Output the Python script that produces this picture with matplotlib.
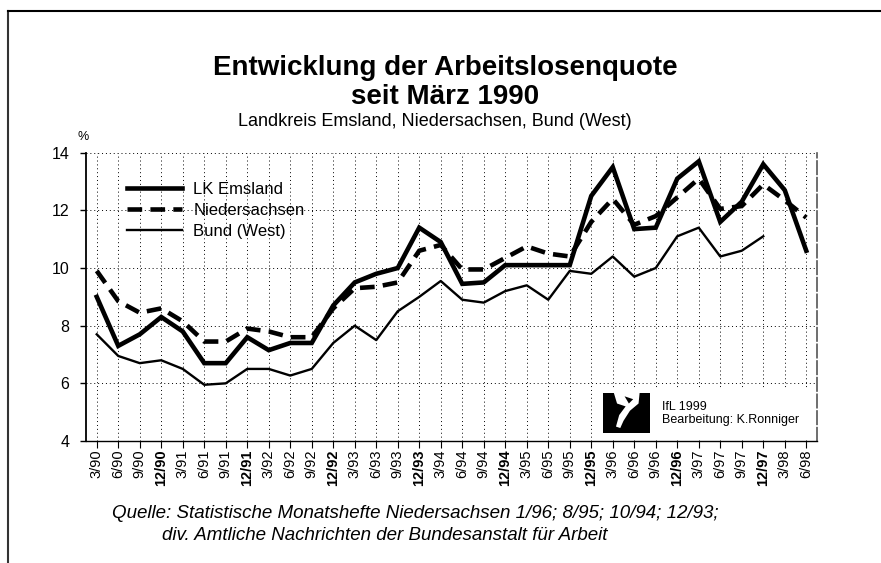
import matplotlib
matplotlib.use("Agg")
import matplotlib.pyplot as plt
from matplotlib.patches import Rectangle, Polygon
from matplotlib.lines import Line2D

plt.rcParams['font.family'] = ['Liberation Sans', 'DejaVu Sans']

# quarterly ticks 3/90 ... 6/98
quarters = []
for yy in range(90, 99):
    for mm in (3, 6, 9, 12):
        if yy == 98 and mm > 6:
            break
        quarters.append("%d/%02d" % (mm, yy))

emsland = [9.0, 7.3, 7.7, 8.3, 7.8, 6.7, 6.7, 7.6, 7.15, 7.4, 7.4, 8.7,
           9.5, 9.8, 10.0, 11.4, 10.9, 9.45, 9.5, 10.1, 10.1, 10.1, 10.1, 12.5,
           13.5, 11.35, 11.4, 13.1, 13.7, 11.6, 12.3, 13.6, 12.7, 10.6]
niedersachsen = [9.9, 8.85, 8.45, 8.6, 8.15, 7.45, 7.45, 7.9, 7.8, 7.6, 7.6, 8.6,
                 9.3, 9.35, 9.5, 10.6, 10.8, 9.95, 9.95, 10.35, 10.75, 10.5, 10.4, 11.6,
                 12.4, 11.5, 11.8, 12.45, 13.1, 12.05, 12.15, 12.9, 12.35, 11.75]
bund = [7.7, 6.95, 6.7, 6.8, 6.5, 5.95, 6.0, 6.5, 6.5, 6.27, 6.5, 7.4,
        8.0, 7.5, 8.5, 9.0, 9.55, 8.9, 8.8, 9.2, 9.4, 8.9, 9.9, 9.8,
        10.4, 9.7, 10.0, 11.1, 11.4, 10.4, 10.6, 11.1]

fig = plt.figure(figsize=(8.81, 5.63), dpi=100)
ax = fig.add_axes([86/881, 1-441/563, (817-86)/881, (441-152.7)/563])

x = list(range(len(quarters)))
ax.plot(x, emsland, color='black', lw=3.3, solid_joinstyle='miter', label='LK Emsland')
ax.plot(x, niedersachsen, color='black', lw=3.3, ls=(0, (3.2, 1.8)), label='Niedersachsen')
ax.plot(x[:len(bund)], bund, color='black', lw=1.7, label='Bund (West)')

ax.set_xlim(-0.5, 33.5)
ax.set_ylim(4, 14)
ax.set_yticks([4, 6, 8, 10, 12, 14])
ax.set_xticks(x)
ax.set_xticklabels(quarters, rotation=90, fontsize=10.5)
for lab in ax.get_xticklabels():
    if lab.get_text().startswith('12/'):
        lab.set_fontweight('bold')
ax.tick_params(axis='y', labelsize=11.5, length=4, width=1, pad=8)
ax.tick_params(axis='x', length=5, width=0.8, pad=1)
ax.grid(True, color='black', ls=(0, (1, 3)), lw=0.7)

ax.spines['top'].set_visible(False)
ax.spines['left'].set_linewidth(1.3)
ax.spines['bottom'].set_linewidth(1.0)
ax.spines['right'].set_color('#555555')
ax.spines['right'].set_linewidth(1.2)
ax.spines['right'].set_linestyle((0, (8, 2)))

leg = ax.legend(loc='upper left', bbox_to_anchor=(0.035, 0.95), frameon=False,
                fontsize=12, handlelength=3.3, labelspacing=0.35, handletextpad=0.7)

ax.text(-0.004, 1.035, '%', transform=ax.transAxes, fontsize=9, ha='center', va='bottom')

# credit box with logo
ax.add_patch(Rectangle((23.1, 4.12), 10.3, 1.7, facecolor='white', edgecolor='none', zorder=3))
ax.add_patch(Rectangle((23.55, 4.27), 2.2, 1.4, facecolor='black', edgecolor='none', zorder=4))
ax.add_patch(Polygon([(24.05, 5.67), (25.25, 5.67), (25.2, 5.3), (24.8, 5.05), (24.5, 4.7),
                      (24.35, 4.45), (24.15, 4.5), (24.3, 4.9), (24.6, 5.2), (24.2, 5.3)],
                     closed=True, facecolor='white', edgecolor='none', zorder=5))
ax.add_patch(Polygon([(24.55, 5.55), (24.95, 5.45), (24.75, 5.3)], closed=True,
                     facecolor='black', edgecolor='none', zorder=6))
ax.text(26.3, 5.18, 'IfL 1999', fontsize=9, va='center', zorder=6)
ax.text(26.3, 4.72, 'Bearbeitung: K.Ronniger', fontsize=9, va='center', zorder=6)

fig.text(0.505, 1-68/563, 'Entwicklung der Arbeitslosenquote', ha='center', va='center',
         fontsize=20, fontweight='bold')
fig.text(0.505, 1-97/563, 'seit März 1990', ha='center', va='center',
         fontsize=20, fontweight='bold')
fig.text(0.494, 1-121/563, 'Landkreis Emsland, Niedersachsen, Bund (West)', ha='center',
         va='center', fontsize=13)

fig.text(112/881, 1-513/563, 'Quelle: Statistische Monatshefte Niedersachsen 1/96; 8/95; 10/94; 12/93;',
         fontsize=13.5, style='italic', va='center')
fig.text(162/881, 1-536/563, 'div. Amtliche Nachrichten der Bundesanstalt für Arbeit',
         fontsize=13.5, style='italic', va='center')

# outer frame
fig.add_artist(Line2D([8/881, 8/881], [0, 1-11/563], color='#333333', lw=1.5))
fig.add_artist(Line2D([8/881, 1], [1-11/563, 1-11/563], color='black', lw=1.5))

fig.savefig('out.png', dpi=100)
